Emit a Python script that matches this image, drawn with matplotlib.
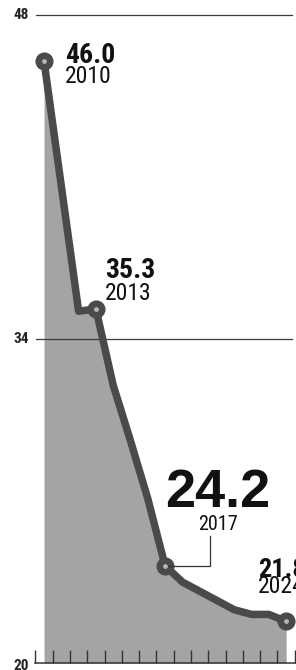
import matplotlib
matplotlib.use("Agg")
import matplotlib.pyplot as plt
from matplotlib import font_manager
from matplotlib.font_manager import FontProperties

years = [2010, 2011, 2012, 2013, 2014, 2015, 2016, 2017, 2018, 2019, 2020, 2021, 2022, 2023, 2024]
values = [46.0, 40.6, 35.2, 35.3, 32.0, 29.6, 27.1, 24.2, 23.5, 23.1, 22.7, 22.3, 22.1, 22.1, 21.8]
highlight_years = [2010, 2013, 2017, 2024]
highlight_values = [46.0, 35.3, 24.2, 21.8]
y_ticks = [20, 34, 48]
y_tick_labels = ["20", "34", "48"]

files = [f.fname for f in font_manager.fontManager.ttflist]


def find(cands):
    for c in cands:
        for fn in files:
            if fn.split("/")[-1].lower() == c.lower():
                return fn
    return None


bold_f = find(["LiberationSansNarrow-Bold.ttf", "RobotoCondensed-Bold.ttf",
               "NotoSans-CondensedBold.ttf", "DejaVuSansCondensed-Bold.ttf"])
reg_f = find(["LiberationSansNarrow-Regular.ttf", "RobotoCondensed-Regular.ttf",
              "NotoSans-Condensed.ttf", "DejaVuSansCondensed.ttf"])
if bold_f and reg_f:
    scale = 1.0
    if "DejaVu" in bold_f:
        scale = 0.85
    FB = lambda s: FontProperties(fname=bold_f, size=s * scale)
    FR = lambda s: FontProperties(fname=reg_f, size=s * scale)
else:
    FB = lambda s: FontProperties(family="Liberation Sans", weight="bold", size=s * 0.85)
    FR = lambda s: FontProperties(family="Liberation Sans", size=s * 0.85)

fig = plt.figure(figsize=(2.96, 6.70), dpi=100)
fig.patch.set_facecolor("white")
ax = fig.add_axes([35.4 / 296, 7 / 670, 1 - 35.4 / 296, 648 / 670])
ax.set_xlim(2009.5, 2024.57)
ax.set_ylim(20, 48)
ax.set_facecolor("none")

# area fill
ax.fill_between(years, values, 20, color="#a4a4a4", lw=0, zorder=1)

# grid lines
for yv in [48, 34]:
    ax.plot([2009.55, 2024.35], [yv, yv], color="#3a3a3a", lw=0.9, zorder=2, clip_on=False)

# main line
ax.plot(years, values, color="#4a4a4a", lw=5.4, solid_joinstyle="round",
        solid_capstyle="round", zorder=3)
ax.scatter(highlight_years, highlight_values, s=170, color="#4a4a4a", zorder=4, lw=0)
ax.scatter(highlight_years, highlight_values, s=12, color="#b5b5b5", zorder=5, lw=0)

# axes styling
for s in ["left", "right", "top"]:
    ax.spines[s].set_visible(False)
ax.spines["bottom"].set_color("#333333")
ax.spines["bottom"].set_linewidth(1.1)
ax.set_xticks([y + 0.5 for y in range(2009, 2025)])
ax.set_xticklabels([])
ax.tick_params(axis="x", direction="in", length=9.5, width=1.0, color="#333333")
ax.set_yticks([])
for yv, lab in zip(y_ticks, y_tick_labels):
    ax.text(-0.025, yv - (0.12 if yv == 20 else 0), lab, transform=ax.get_yaxis_transform(),
            ha="right", va="center", fontproperties=FB(11) if bold_f else FR(11),
            color="#222222", clip_on=False)

# annotations
txt = dict(color="#111111", zorder=6, clip_on=False)
ax.text(2011.21, 45.93, "46.0", fontproperties=FB(20), va="baseline", ha="left", **txt)
ax.text(2011.21, 45.06, "2010", fontproperties=FR(17), va="baseline", ha="left", **txt)
ax.text(2013.53, 36.63, "35.3", fontproperties=FB(20), va="baseline", ha="left", **txt)
ax.text(2013.53, 35.68, "2013", fontproperties=FR(17), va="baseline", ha="left", **txt)
ax.text(2020.06, 26.74, "24.2", fontproperties=FontProperties(family="Liberation Sans",
        weight="bold", size=39), va="baseline", ha="center", **txt)
ax.text(2020.06, 25.74, "2017", fontproperties=FR(14.5), va="baseline", ha="center", **txt)
ax.text(2022.38, 23.71, "21.8", fontproperties=FB(19), va="baseline", ha="left", **txt)
ax.text(2022.38, 23.02, "2024", fontproperties=FR(17), va="baseline", ha="left", **txt)

# connector for 2017
ax.plot([2017, 2019.6, 2019.6], [24.2, 24.2, 25.5], color="#333333", lw=0.9, zorder=4.5)

fig.savefig("out.png", dpi=100, facecolor="white")
